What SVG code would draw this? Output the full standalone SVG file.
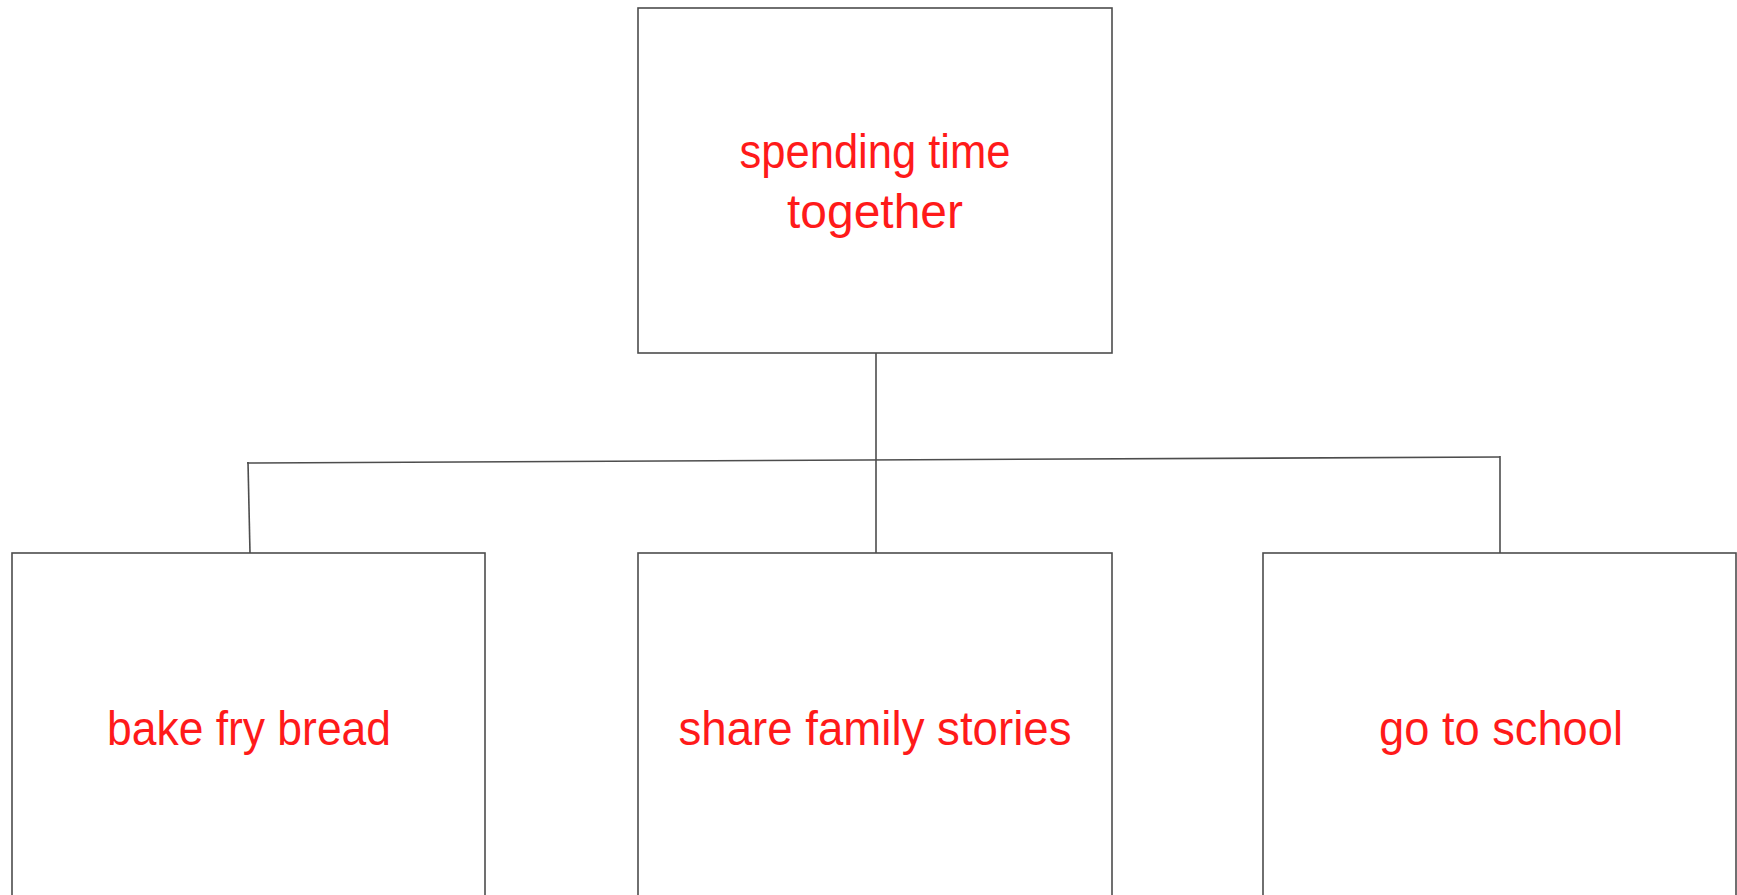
<svg xmlns="http://www.w3.org/2000/svg" width="1737" height="895" viewBox="0 0 1737 895">
<style>
.box{fill:#fff;stroke:#4d4d4d;stroke-width:1.6}
.lbl{fill:#ff1a1a;font-family:"Liberation Sans",Arial,sans-serif;font-size:48px;text-anchor:middle}
.conn{fill:none;stroke:#4d4d4d;stroke-width:1.6}
</style>
<rect width="1737" height="895" fill="#fff"/>
<g id="connectors">
<line class="conn" x1="876" y1="353" x2="876" y2="553"/>
<line class="conn" x1="247" y1="463" x2="1500" y2="457"/>
<line class="conn" x1="248" y1="462" x2="250" y2="553"/>
<line class="conn" x1="1500" y1="456" x2="1500" y2="553"/>
</g>
<g id="node-top">
<rect class="box" x="638" y="8" width="474" height="345"/>
<text class="lbl" x="875" y="168" textLength="271" lengthAdjust="spacingAndGlyphs">spending time</text>
<text class="lbl" x="875" y="228" textLength="176" lengthAdjust="spacingAndGlyphs">together</text>
</g>
<g id="node-bake">
<rect class="box" x="12" y="553" width="473" height="360"/>
<text class="lbl" x="249" y="745" textLength="284" lengthAdjust="spacingAndGlyphs">bake fry bread</text>
</g>
<g id="node-share">
<rect class="box" x="638" y="553" width="474" height="360"/>
<text class="lbl" x="875" y="745" textLength="393" lengthAdjust="spacingAndGlyphs">share family stories</text>
</g>
<g id="node-school">
<rect class="box" x="1263" y="553" width="473" height="360"/>
<text class="lbl" x="1501" y="745" textLength="244" lengthAdjust="spacingAndGlyphs">go to school</text>
</g>
</svg>
